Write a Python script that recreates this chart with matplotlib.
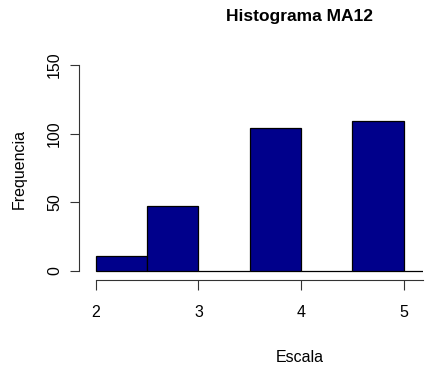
import matplotlib
matplotlib.use("Agg")
import matplotlib.pyplot as plt

# Histogram counts per half-unit bin of the scale
bin_edges = [2.0, 2.5, 3.0, 3.5, 4.0, 4.5, 5.0, 5.5]
counts = [11, 47, 0, 104, 0, 109, 0]
x_ticks = [2, 3, 4, 5]
y_ticks = [0, 50, 100, 150]

title = "Histograma MA12"
x_label = "Escala"
y_label = "Frequencia"

W, H = 433, 372
fig = plt.figure(figsize=(W / 100, H / 100), dpi=100)

def fx(px):
    return px / W

def fy(py):
    return 1 - py / H

ax = fig.add_axes([fx(79), fy(280), fx(423) - fx(79), fy(40) - fy(280)])
ax.set_xlim(1.8374, 5.187)
ax.set_ylim(-6.555, 168.2)

widths = [b - a for a, b in zip(bin_edges[:-1], bin_edges[1:])]
ax.bar(bin_edges[:-1], counts, width=widths, align="edge",
       color="#00008B", edgecolor="black", linewidth=0.9)

font = "Liberation Sans"
fs = 11.5

for s in ("top", "right"):
    ax.spines[s].set_visible(False)
ax.spines["left"].set_bounds(0, 150)
ax.spines["bottom"].set_bounds(2, 5.187)
for s in ("left", "bottom"):
    ax.spines[s].set_color("#333333")
    ax.spines[s].set_linewidth(0.8)

ax.set_xticks(x_ticks)
ax.set_xticklabels([str(t) for t in x_ticks], fontfamily=font, fontsize=fs)
ax.set_yticks(y_ticks)
ax.set_yticklabels([str(t) for t in y_ticks], fontfamily=font, fontsize=fs,
                   rotation=90, va="center")
ax.tick_params(axis="x", length=7.2, width=0.8, color="#333333", pad=11)
ax.tick_params(axis="y", length=6.3, width=0.8, color="#333333", pad=6)

fig.text(fx(300), fy(17), title, ha="center", va="center",
         fontfamily=font, fontweight="bold", fontsize=12.5)
fig.text(fx(300), fy(357), x_label, ha="center", va="center",
         fontfamily=font, fontsize=fs)
fig.text(fx(19), fy(169), y_label, ha="center", va="center", rotation=90,
         fontfamily=font, fontsize=fs)

fig.savefig("out.png", dpi=100)
